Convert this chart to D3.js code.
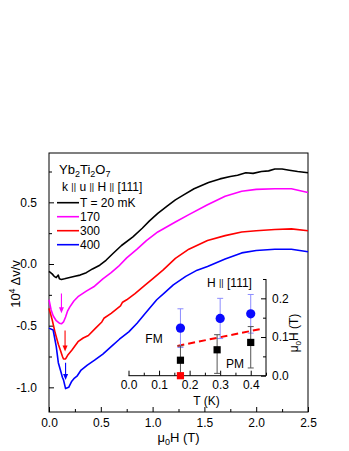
<!DOCTYPE html>
<html>
<head>
<meta charset="utf-8">
<script src="https://cdn.jsdelivr.net/npm/d3@7"></script>
<style>
  body { margin: 0; background: #fff; }
  text { font-family: "Liberation Sans", Arial, sans-serif; }
</style>
</head>
<body>
<div class="chart"></div>
<script>
// field values (T) and sound velocity shift for each temperature
const h20 = [0, 0.03, 0.05, 0.07, 0.09, 0.1, 0.12, 0.15, 0.2, 0.25, 0.3, 0.36, 0.42, 0.49, 0.55, 0.62, 0.7, 0.81, 0.9, 0.97, 1.05, 1.14, 1.22, 1.3, 1.4, 1.54, 1.65, 1.75, 1.82, 1.9, 1.97, 2.05, 2.12, 2.18, 2.25, 2.32, 2.4, 2.5]
const v20 = [-0.06, -0.08, -0.1, -0.11, -0.09, -0.12, -0.125, -0.12, -0.11, -0.1, -0.09, -0.07, -0.04, -0.01, 0.03, 0.087, 0.15, 0.22, 0.29, 0.35, 0.41, 0.47, 0.52, 0.56, 0.61, 0.66, 0.69, 0.71, 0.72, 0.74, 0.735, 0.75, 0.755, 0.77, 0.77, 0.76, 0.75, 0.74]

const h170 = [0, 0.02, 0.04, 0.07, 0.1, 0.12, 0.14, 0.16, 0.18, 0.2, 0.24, 0.28, 0.36, 0.44, 0.52, 0.6, 0.67, 0.75, 0.85, 0.94, 1.05, 1.22, 1.35, 1.53, 1.7, 1.86, 2.0, 2.18, 2.34, 2.5]
const v170 = [-0.29, -0.37, -0.42, -0.46, -0.48, -0.485, -0.47, -0.43, -0.38, -0.35, -0.3, -0.265, -0.22, -0.18, -0.12, -0.07, -0.02, 0.05, 0.12, 0.19, 0.26, 0.34, 0.4, 0.48, 0.55, 0.59, 0.605, 0.61, 0.61, 0.58]

const h300 = [0, 0.03, 0.06, 0.09, 0.11, 0.13, 0.14, 0.16, 0.18, 0.22, 0.28, 0.33, 0.38, 0.45, 0.51, 0.53, 0.6, 0.69, 0.71, 0.75, 0.83, 0.93, 1.0, 1.1, 1.22, 1.35, 1.53, 1.7, 1.86, 2.0, 2.18, 2.34, 2.5]
const v300 = [-0.36, -0.45, -0.56, -0.65, -0.7, -0.75, -0.77, -0.77, -0.74, -0.7, -0.63, -0.6, -0.58, -0.52, -0.47, -0.44, -0.4, -0.34, -0.31, -0.29, -0.24, -0.17, -0.12, -0.05, 0.045, 0.12, 0.19, 0.23, 0.26, 0.27, 0.28, 0.285, 0.27]

const h400 = [0, 0.04, 0.07, 0.09, 0.11, 0.13, 0.14, 0.16, 0.19, 0.22, 0.24, 0.27, 0.31, 0.37, 0.44, 0.52, 0.6, 0.68, 0.77, 0.85, 0.93, 1.04, 1.12, 1.2, 1.32, 1.43, 1.53, 1.7, 1.86, 2.0, 2.18, 2.34, 2.5]
const v400 = [-0.52, -0.535, -0.67, -0.8, -0.86, -0.92, -0.94, -1.01, -1.0, -0.95, -0.93, -0.91, -0.86, -0.82, -0.78, -0.73, -0.67, -0.61, -0.55, -0.48, -0.4, -0.29, -0.23, -0.17, -0.1, -0.05, -0.02, 0.04, 0.09, 0.11, 0.12, 0.12, 0.1]

const seriesNames = ["T = 20 mK", "170", "300", "400"]
const seriesColors = ["#000000", "#ff00ff", "#ff0000", "#0000ff"]
const seriesH = [h20, h170, h300, h400]
const seriesV = [v20, v170, v300, v400]

// minimum arrows: field, start value, end value
const arrowH = [0.12, 0.155, 0.16]
const arrowFrom = [-0.24, -0.54, -0.8]
const arrowTo = [-0.4, -0.71, -0.94]

const xTicks = [0, 0.5, 1.0, 1.5, 2.0, 2.5]
const xMinor = [0.25, 0.75, 1.25, 1.75, 2.25]
const yTicks = [-1.0, -0.5, 0.0, 0.5]
const yMinor = [-0.75, -0.25, 0.25, 0.75]

// inset: phase boundary vs temperature
const tBlue = [0.17, 0.3, 0.4]
const hBlue = [0.123, 0.148, 0.16]
const eBlue = [0.05, 0.052, 0.05]
const tBlack = [0.17, 0.29, 0.4]
const hBlack = [0.04, 0.067, 0.086]
const loBlack = [0.0, 0.006, 0.02]
const hiBlack = [0.077, 0.106, 0.127]
const tRed = [0.17]
const hRed = [0.0]
const fitT = [0.16, 0.44]
const fitH = [0.077, 0.122]
const insetXTicks = [0, 0.1, 0.2, 0.3, 0.4]
const insetXMinor = [0.05, 0.15, 0.25, 0.35, 0.45]
const insetYTicks = [0, 0.1, 0.2]
const insetYMinor = [0.05, 0.15, 0.25]

const width = 349
const height = 451

const svg = d3.select(".chart").append("svg")
    .attr("width", width)
    .attr("height", height)
    .attr("viewBox", [0, 0, width, height])

svg.append("rect").attr("width", width).attr("height", height).attr("fill", "#fff")

const x = d3.scaleLinear().domain([0, 2.5]).range([49, 308])
const y = d3.scaleLinear().domain([-1.2, 0.9]).range([412, 153])

const fmt = d => d.toFixed(1)

// axes, ticks pointing inward
const xAxis = svg.append("g")
    .attr("transform", `translate(0,${y.range()[0]})`)
    .call(d3.axisBottom(x).tickValues(xTicks).tickFormat(fmt).tickSize(-5).tickPadding(6))
const xAxisMinor = svg.append("g")
    .attr("transform", `translate(0,${y.range()[0]})`)
    .call(d3.axisBottom(x).tickValues(xMinor).tickFormat("").tickSize(-3))
const yAxis = svg.append("g")
    .attr("transform", `translate(${x.range()[0]},0)`)
    .call(d3.axisLeft(y).tickValues(yTicks).tickFormat(fmt).tickSize(-5).tickPadding(12))
const yAxisMinor = svg.append("g")
    .attr("transform", `translate(${x.range()[0]},0)`)
    .call(d3.axisLeft(y).tickValues(yMinor).tickFormat("").tickSize(-3))

svg.selectAll(".domain").remove()
svg.selectAll(".tick text").style("font-size", "12px").style("font-family", "Liberation Sans, Arial, sans-serif").attr("fill", "#000")
svg.selectAll(".tick line").attr("stroke", "#000")

svg.append("rect")
    .attr("x", x.range()[0])
    .attr("y", y.range()[1])
    .attr("width", x.range()[1] - x.range()[0])
    .attr("height", y.range()[0] - y.range()[1])
    .attr("fill", "none")
    .attr("stroke", "#000")
    .attr("stroke-width", 1)

// axis titles
const xTitle = svg.append("text")
    .attr("x", (x.range()[0] + x.range()[1]) / 2)
    .attr("y", 442)
    .attr("text-anchor", "middle")
    .style("font-size", "13px")
xTitle.append("tspan").text("\u03bc")
xTitle.append("tspan").attr("dy", 3).style("font-size", "9px").text("0")
xTitle.append("tspan").attr("dy", -3).text("H (T)")

const yTitle = svg.append("text")
    .attr("transform", "translate(20,284) rotate(-90)")
    .attr("text-anchor", "middle")
    .style("font-size", "13px")
yTitle.append("tspan").text("10")
yTitle.append("tspan").attr("dy", -5).style("font-size", "9px").text("4")
yTitle.append("tspan").attr("dy", 5).text(" \u0394v/v")

// curves
const line = d3.line()
    .x(d => x(d[0]))
    .y(d => y(d[1]))

const curves = svg.append("g").attr("class", "curves")
    .selectAll("path")
    .data(seriesH.map((hs, i) => hs.map((h, j) => [h, seriesV[i][j]])))
    .join(
        enter => enter.append("path")
            .attr("d", line)
            .attr("fill", "none")
            .attr("stroke", (d, i) => seriesColors[i])
            .attr("stroke-width", 1.6)
            .attr("stroke-linejoin", "round")
    )

// arrows at the minima
const arrows = svg.append("g").attr("class", "arrows")
arrowH.forEach((h, i) => {
    const c = seriesColors[i + 1]
    const ax = x(h), y0 = y(arrowFrom[i]), y1 = y(arrowTo[i])
    arrows.append("line")
        .attr("x1", ax).attr("x2", ax)
        .attr("y1", y0).attr("y2", y1 - 4)
        .attr("stroke", c).attr("stroke-width", 1.1)
    arrows.append("path")
        .attr("d", `M${ax - 2.5},${y1 - 6}L${ax},${y1}L${ax + 2.5},${y1 - 6}Z`)
        .attr("fill", c)
})

// legend
const legend = svg.append("g").attr("class", "legend")
const title = legend.append("text").attr("x", 59).attr("y", 174).style("font-size", "13px")
title.append("tspan").text("Yb")
title.append("tspan").attr("dy", 3).style("font-size", "9px").text("2")
title.append("tspan").attr("dy", -3).text("Ti")
title.append("tspan").attr("dy", 3).style("font-size", "9px").text("2")
title.append("tspan").attr("dy", -3).text("O")
title.append("tspan").attr("dy", 3).style("font-size", "9px").text("7")

const dir = legend.append("text").attr("x", 62).attr("y", 191).style("font-size", "12px")
;["k", "u", "H"].forEach(s => {
    dir.append("tspan").text(s + " ")
    dir.append("tspan").style("font-size", "9px").attr("dy", -1).text("||")
    dir.append("tspan").attr("dy", 1).text(" ")
})
dir.append("tspan").text("[111]")

seriesNames.forEach((name, i) => {
    const ly = 202.7 + i * 14
    legend.append("line")
        .attr("x1", 57).attr("x2", 79)
        .attr("y1", ly).attr("y2", ly)
        .attr("stroke", seriesColors[i]).attr("stroke-width", 1.6)
    legend.append("text")
        .attr("x", 80).attr("y", ly + 4.3)
        .style("font-size", "12px")
        .text(name)
})

// inset
const tx = d3.scaleLinear().domain([0, 0.45]).range([128.5, 266])
const ty = d3.scaleLinear().domain([0, 0.25]).range([375.7, 279])
const inset = svg.append("g").attr("class", "inset")

const ix = inset.append("g").attr("transform", `translate(0,${ty(0)})`)
    .call(d3.axisBottom(tx).tickValues(insetXTicks).tickFormat(fmt).tickSize(-5).tickPadding(5))
inset.append("g").attr("transform", `translate(0,${ty(0)})`)
    .call(d3.axisBottom(tx).tickValues(insetXMinor).tickFormat("").tickSize(-3))
const iy = inset.append("g").attr("transform", `translate(${tx(0.45)},0)`)
    .call(d3.axisRight(ty).tickValues(insetYTicks).tickFormat(fmt).tickSize(-5).tickPadding(6))
inset.append("g").attr("transform", `translate(${tx(0.45)},0)`)
    .call(d3.axisRight(ty).tickValues(insetYMinor).tickFormat("").tickSize(-3))
inset.selectAll(".domain").remove()
inset.append("line").attr("x1", tx(0)).attr("x2", tx(0.45)).attr("y1", ty(0)).attr("y2", ty(0)).attr("stroke", "#000")
inset.append("line").attr("x1", tx(0.45)).attr("x2", tx(0.45)).attr("y1", ty(0)).attr("y2", ty(0.25)).attr("stroke", "#000")
inset.selectAll(".tick text").style("font-size", "12px").style("font-family", "Liberation Sans, Arial, sans-serif").attr("fill", "#000")
inset.selectAll(".tick line").attr("stroke", "#000")

inset.append("text").attr("x", 206.5).attr("y", 405).attr("text-anchor", "middle").style("font-size", "12px").text("T (K)")
const iTitle = inset.append("text")
    .attr("transform", "translate(298,333) rotate(-90)")
    .attr("text-anchor", "middle")
    .style("font-size", "12px")
iTitle.append("tspan").text("\u03bc")
iTitle.append("tspan").attr("dy", 3).style("font-size", "8px").text("0")
iTitle.append("tspan").attr("dy", -3).text("H (T)")

const hdir = inset.append("text").attr("x", 207).attr("y", 287).style("font-size", "12px")
hdir.append("tspan").text("H ")
hdir.append("tspan").style("font-size", "9px").attr("dy", -1).text("||")
hdir.append("tspan").attr("dy", 1).text(" [111]")

inset.append("text").attr("x", 154).attr("y", 343).attr("text-anchor", "middle").style("font-size", "12px").text("FM")
inset.append("text").attr("x", 235).attr("y", 368).attr("text-anchor", "middle").style("font-size", "12px").text("PM")

// fit line
inset.append("path")
    .datum(fitT.map((t, i) => [t, fitH[i]]))
    .attr("d", d3.line().x(d => tx(d[0])).y(d => ty(d[1])))
    .attr("stroke", "#ff0000")
    .attr("stroke-width", 2)
    .attr("stroke-dasharray", "7,4")
    .attr("fill", "none")

// error bars
function errorBars(ts, lo, hi, color) {
    const g = inset.append("g")
    ts.forEach((t, i) => {
        const cx = tx(t)
        g.append("line").attr("x1", cx).attr("x2", cx).attr("y1", ty(lo[i])).attr("y2", ty(hi[i])).attr("stroke", color)
        g.append("line").attr("x1", cx - 3).attr("x2", cx + 3).attr("y1", ty(lo[i])).attr("y2", ty(lo[i])).attr("stroke", color)
        g.append("line").attr("x1", cx - 3).attr("x2", cx + 3).attr("y1", ty(hi[i])).attr("y2", ty(hi[i])).attr("stroke", color)
    })
}
errorBars(tBlue, hBlue.map((h, i) => h - eBlue[i]), hBlue.map((h, i) => h + eBlue[i]), "#8c8cff")
errorBars(tBlack, loBlack, hiBlack, "#555")

inset.append("g").selectAll("circle")
    .data(tBlue.map((t, i) => [t, hBlue[i]]))
    .join("circle")
    .attr("cx", d => tx(d[0]))
    .attr("cy", d => ty(d[1]))
    .attr("r", 4.6)
    .attr("fill", "#0a0aff")

inset.append("g").selectAll("rect")
    .data(tBlack.map((t, i) => [t, hBlack[i]]))
    .join("rect")
    .attr("x", d => tx(d[0]) - 3.6)
    .attr("y", d => ty(d[1]) - 3.6)
    .attr("width", 7.2)
    .attr("height", 7.2)
    .attr("fill", "#000")

inset.append("g").selectAll("rect")
    .data(tRed.map((t, i) => [t, hRed[i]]))
    .join("rect")
    .attr("x", d => tx(d[0]) - 3.6)
    .attr("y", d => ty(d[1]) - 3.6)
    .attr("width", 7.2)
    .attr("height", 7.2)
    .attr("fill", "#ff0000")
</script>
</body>
</html>
